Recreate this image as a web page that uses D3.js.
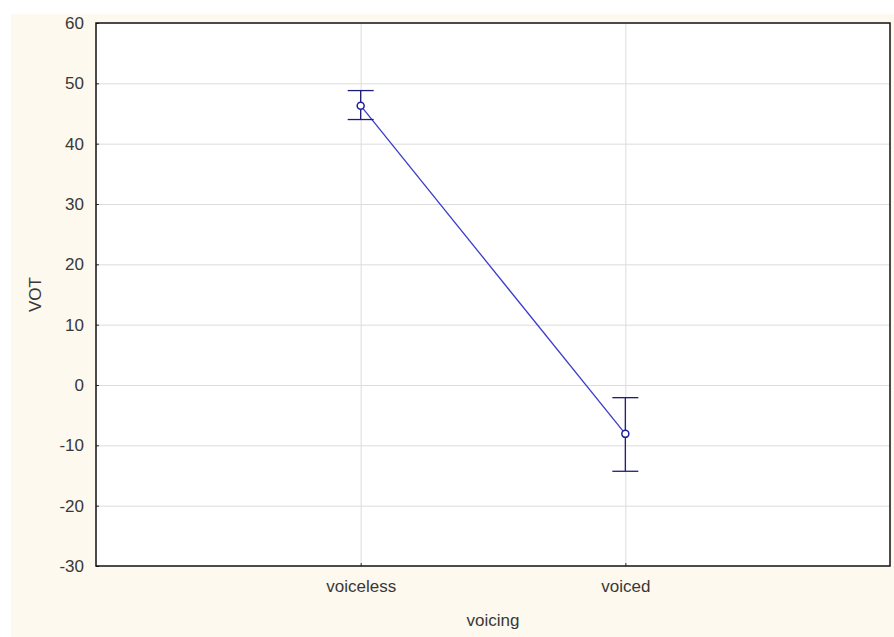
<!DOCTYPE html>
<html><head><meta charset="utf-8">
<script src="https://cdn.jsdelivr.net/npm/d3@7"></script>
<style>body{margin:0;background:#fff}svg{display:block}</style>
</head><body>
<script>
const categories = ["voiceless", "voiced"];
const means = [46.3, -8.1];
const upper = [48.8, -2.1];
const lower = [44.0, -14.3];
const yTicks = [-30, -20, -10, 0, 10, 20, 30, 40, 50, 60];

const W = 894, H = 637;
const m = {left: 96, right: 4, top: 23, bottom: 71};
const svg = d3.select("body").append("svg").attr("width", W).attr("height", H);
svg.append("rect").attr("x", 11).attr("y", 14).attr("width", W - 11).attr("height", H - 14).attr("fill", "#fdf9ef");

const x = d3.scalePoint().domain(categories).range([m.left, W - m.right]).padding(1);
const y = d3.scaleLinear().domain([-30, 60]).range([H - m.bottom, m.top]);

svg.append("rect").attr("x", m.left).attr("y", m.top).attr("width", W - m.right - m.left).attr("height", H - m.bottom - m.top).attr("fill", "#fff");

const font = "Arial, 'Liberation Sans', sans-serif";
const fs = 17;
const tc = "#383838";
// grid
svg.append("g").selectAll("line").data(yTicks.slice(1, -1)).join("line")
  .attr("x1", m.left).attr("x2", W - m.right).attr("y1", d => y(d) + 0.5).attr("y2", d => y(d) + 0.5)
  .attr("stroke", "#dcdcdc");
svg.append("g").selectAll("line").data(categories).join("line")
  .attr("x1", d => x(d) + 0.5).attr("x2", d => x(d) + 0.5).attr("y1", m.top).attr("y2", H - m.bottom)
  .attr("stroke", "#dcdcdc");

// axes
const yAxis = svg.append("g").attr("transform", `translate(${m.left},0)`)
  .call(d3.axisLeft(y).tickValues(yTicks).tickSize(-3).tickPadding(12).tickFormat(d => String(d)));
yAxis.select(".domain").remove();
yAxis.selectAll("text").attr("font-size", fs).attr("font-family", font).attr("fill", tc);
yAxis.selectAll("line").attr("stroke", "#333");
const xAxis = svg.append("g").attr("transform", `translate(0,${H - m.bottom})`)
  .call(d3.axisBottom(x).tickSize(-3).tickPadding(14));
xAxis.select(".domain").remove();
xAxis.selectAll("text").attr("font-size", fs).attr("font-family", font).attr("fill", tc);
xAxis.selectAll("line").attr("stroke", "#333");

// frame
svg.append("rect").attr("x", m.left).attr("y", m.top).attr("width", W - m.right - m.left).attr("height", H - m.bottom - m.top)
  .attr("fill", "none").attr("stroke", "#111").attr("stroke-width", 1.5);

// line
svg.append("path").datum(categories.map((c, i) => [x(c), y(means[i])]))
  .attr("d", d3.line()).attr("fill", "none").attr("stroke", "#3c3cc8").attr("stroke-width", 1.3);

// error bars
const eb = svg.append("g").attr("stroke", "#1e1e78").attr("stroke-width", 1.3);
categories.forEach((c, i) => {
  eb.append("line").attr("x1", x(c)).attr("x2", x(c)).attr("y1", y(upper[i])).attr("y2", y(lower[i]));
  eb.append("line").attr("x1", x(c) - 13).attr("x2", x(c) + 13).attr("y1", y(upper[i])).attr("y2", y(upper[i]));
  eb.append("line").attr("x1", x(c) - 13).attr("x2", x(c) + 13).attr("y1", y(lower[i])).attr("y2", y(lower[i]));
});
svg.append("g").selectAll("circle").data(categories).join("circle")
  .attr("cx", d => x(d)).attr("cy", (d, i) => y(means[i])).attr("r", 3.5)
  .attr("fill", "#fff").attr("stroke", "#1e1e9a").attr("stroke-width", 1.5);

// titles
svg.append("text").attr("x", (m.left + W - m.right) / 2).attr("y", 626).attr("text-anchor", "middle")
  .attr("font-size", fs).attr("font-family", font).attr("fill", tc).text("voicing");
svg.append("text").attr("transform", `translate(41,${(m.top + H - m.bottom) / 2}) rotate(-90)`).attr("text-anchor", "middle")
  .attr("font-size", fs).attr("font-family", font).attr("fill", tc).text("VOT");
</script>
</body></html>
